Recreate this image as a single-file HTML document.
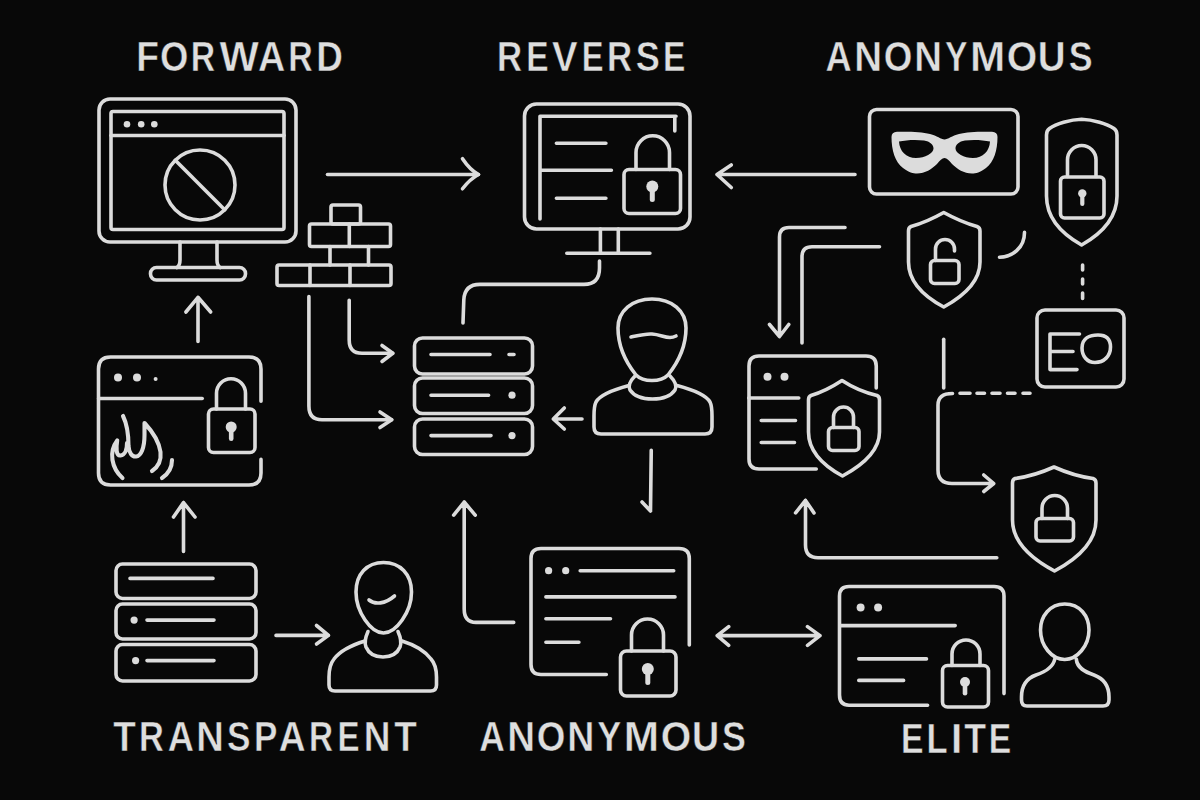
<!DOCTYPE html>
<html><head><meta charset="utf-8">
<style>
html,body{margin:0;padding:0;background:#080808;width:1200px;height:800px;overflow:hidden}
svg{display:block}
.s{fill:none;stroke:#dcdcdc;stroke-width:3.6;stroke-linecap:round;stroke-linejoin:round}
.f{fill:#dcdcdc;stroke:none}
.t{font-family:"Liberation Sans",sans-serif;font-weight:bold;font-size:42px;fill:#dedede;stroke:#080808;stroke-width:0.5}
</style></head>
<body>
<svg width="1200" height="800" viewBox="0 0 1200 800">
<rect width="1200" height="800" fill="#080808"/>
<!-- titles -->
<text class="t" transform="translate(136.20,71.45) scale(0.884,1)">F</text>
<text class="t" transform="translate(159.98,71.45) scale(0.868,1)">O</text>
<text class="t" transform="translate(190.72,71.45) scale(0.804,1)">R</text>
<text class="t" transform="translate(219.54,71.45) scale(0.992,1)">W</text>
<text class="t" transform="translate(257.94,71.45) scale(0.899,1)">A</text>
<text class="t" transform="translate(288.21,71.45) scale(0.808,1)">R</text>
<text class="t" transform="translate(316.31,71.45) scale(0.879,1)">D</text>
<text class="t" transform="translate(497.05,71.35) scale(0.829,1)">R</text>
<text class="t" transform="translate(526.29,71.35) scale(0.797,1)">E</text>
<text class="t" transform="translate(552.02,71.35) scale(0.913,1)">V</text>
<text class="t" transform="translate(581.79,71.35) scale(0.778,1)">E</text>
<text class="t" transform="translate(607.05,71.35) scale(0.829,1)">R</text>
<text class="t" transform="translate(635.84,71.35) scale(0.860,1)">S</text>
<text class="t" transform="translate(662.94,71.35) scale(0.797,1)">E</text>
<text class="t" transform="translate(825.58,71.25) scale(0.864,1)">A</text>
<text class="t" transform="translate(854.20,71.25) scale(0.917,1)">N</text>
<text class="t" transform="translate(883.87,71.25) scale(0.875,1)">O</text>
<text class="t" transform="translate(914.31,71.25) scale(0.915,1)">N</text>
<text class="t" transform="translate(944.90,71.25) scale(0.805,1)">Y</text>
<text class="t" transform="translate(970.05,71.25) scale(1.008,1)">M</text>
<text class="t" transform="translate(1006.87,71.25) scale(0.933,1)">O</text>
<text class="t" transform="translate(1037.67,71.25) scale(0.917,1)">U</text>
<text class="t" transform="translate(1068.65,71.25) scale(0.852,1)">S</text>
<text class="t" transform="translate(113.27,750.75) scale(0.879,1)">T</text>
<text class="t" transform="translate(139.08,750.75) scale(0.819,1)">R</text>
<text class="t" transform="translate(167.68,750.75) scale(0.864,1)">A</text>
<text class="t" transform="translate(196.33,750.75) scale(0.909,1)">N</text>
<text class="t" transform="translate(226.96,750.75) scale(0.840,1)">S</text>
<text class="t" transform="translate(254.03,750.75) scale(0.835,1)">P</text>
<text class="t" transform="translate(278.75,750.75) scale(0.885,1)">A</text>
<text class="t" transform="translate(309.05,750.75) scale(0.793,1)">R</text>
<text class="t" transform="translate(337.47,750.75) scale(0.787,1)">E</text>
<text class="t" transform="translate(363.71,750.75) scale(0.880,1)">N</text>
<text class="t" transform="translate(394.17,750.75) scale(0.879,1)">T</text>
<text class="t" transform="translate(479.15,750.75) scale(0.844,1)">A</text>
<text class="t" transform="translate(507.20,750.75) scale(0.917,1)">N</text>
<text class="t" transform="translate(536.87,750.75) scale(0.875,1)">O</text>
<text class="t" transform="translate(567.37,750.75) scale(0.893,1)">N</text>
<text class="t" transform="translate(597.26,750.75) scale(0.858,1)">Y</text>
<text class="t" transform="translate(623.84,750.75) scale(1.009,1)">M</text>
<text class="t" transform="translate(660.67,750.75) scale(0.933,1)">O</text>
<text class="t" transform="translate(692.12,750.75) scale(0.895,1)">U</text>
<text class="t" transform="translate(721.95,750.75) scale(0.852,1)">S</text>
<text class="t" transform="translate(901.02,753.05) scale(0.804,1)">E</text>
<text class="t" transform="translate(926.47,753.05) scale(0.823,1)">L</text>
<text class="t" transform="translate(950.97,753.05) scale(0.965,1)">I</text>
<text class="t" transform="translate(964.13,753.05) scale(0.849,1)">T</text>
<text class="t" transform="translate(988.83,753.05) scale(0.800,1)">E</text>
<!-- /titles -->

<g class="s">
<!-- Monitor 1 -->
<rect x="99" y="99" width="197" height="143" rx="11"/>
<rect x="111" y="111.5" width="173" height="118" rx="2"/>
<path d="M111,135.5 L284,135.5"/>
<circle cx="200" cy="185" r="35"/>
<path d="M175.3,160.3 L224.7,209.7"/>
<path d="M180,242 L180,260 Q180,265.5 177,267.5 M217,242 L217,260 Q217,265.5 220,267.5"/>
<rect x="150.5" y="267.5" width="95" height="12.5" rx="6"/>

<!-- brick wall -->
<rect x="331" y="205" width="29.5" height="19" rx="2"/>
<rect x="309.5" y="224" width="81" height="22.5" rx="2"/>
<path d="M349.3,224 L349.3,246.5 M330,246.5 L330,265 M368.5,246.5 L368.5,265"/>
<rect x="277" y="265" width="114" height="20.5" rx="2"/>
<path d="M310,265 L310,285.5 M350,265 L350,285.5"/>

<!-- arrow right top -->
<path d="M327.5,174.5 L478.5,174.5"/>
<path d="M462.5,158.75 Q470,170 478.5,174.5 Q470,179 462.5,188.75"/>

<!-- Monitor 2 -->
<rect x="524.5" y="104" width="165.5" height="125" rx="12"/>
<path d="M540,219 L540,116.3 L676,116.3 M674.8,117 L674.8,131"/>
<path d="M556.4,143.3 L605.9,143.3 M541,170.2 L611.4,170.2 M556.4,198.3 L605.9,198.3"/>
<rect x="624" y="169.5" width="56.5" height="44" rx="5"/>
<path d="M636,169.5 L636,152.5 A16.75,16.75 0 0 1 669.5,152.5 L669.5,169.5"/>
<path d="M600.4,229 L600.4,253.3 M618.3,229 L618.3,253.3 M566.8,253.3 L649.9,253.3"/>

<!-- line monitor2 -> server -->
<path d="M463,322.9 L463.8,300 Q464.5,284.4 480,284.4 L584,284.4 Q599.5,284.4 599.5,268 L599.5,261"/>

<!-- brick lines -->
<path d="M308.9,296.6 L308.9,406 Q308.9,419.8 322,419.8 L391.7,419.8"/>
<path d="M380,412 L391.7,419.8 L380,427.5"/>
<path d="M349.2,300.2 L349.2,340 Q349.2,353.3 362,353.3 L392.8,353.3"/>
<path d="M382,345.5 L392.8,353.3 L382,361.5"/>

<!-- server center -->
<rect x="414.5" y="338" width="118" height="36" rx="8"/>
<rect x="414.5" y="378" width="118" height="35.5" rx="8"/>
<rect x="414.5" y="419" width="118" height="35.5" rx="8"/>
<path d="M431,354.5 L490,354.5 M509,354.5 L514,354.5 M431,395.2 L488.6,395.2 M431,435.6 L491,435.6"/>

<!-- arrow person -> server -->
<path d="M553.3,419 L582,419 M564.3,408 L553.3,419 L564.3,429"/>

<!-- person center -->
<path d="M652,299 C672,299 686,311 686,328 C686,348 676,365 668,375 C664,379 658,380.5 652,380.5 C646,380.5 640,379 636,375 C628,365 618,348 618,328 C618,311 632,299 652,299 Z"/>
<path d="M631,337 C640,335 646,333.5 652,334 C660,334.5 664,337.5 670,337.5 C673,337.5 675,336.5 676,336"/>
<path d="M635,376 C630,381 628,386 630,390 C634,396 643,399 652.5,399 C662,399 671,396 675,390 C677,386 675,381 670,376"/>
<path d="M629,385.5 C612,390 600,395 596,402 C594,406 594,411 594,416 L594,427 Q594,434 601,434 L705,434 Q712,434 712,427 L712,416 C712,411 712,406 710,402 C706,395 694,390 677,385.5"/>
<path d="M651.25,450.3 L650.5,511 M642,502 L650.5,511"/>

<!-- arrow left from mask -->
<path d="M717,174.5 L855,174.5 M731.25,165 L717,174.5 L731.25,187.5"/>

<!-- mask box -->
<rect x="869.5" y="109.5" width="148.5" height="84.5" rx="7"/>

<!-- shield top right -->
<path d="M1081.6,119.2 C1070,119.5 1056,124 1049.5,128.5 Q1046.5,130.5 1046.5,135 L1046.5,196 C1046.5,218 1062,234 1081.6,245 C1101,234 1117,218 1117,196 L1117,135 Q1117,130.5 1114,128.5 C1107,124 1093,119.5 1081.6,119.2 Z"/>
<path d="M1067.5,176.5 L1067.5,159.75 A14.25,14.25 0 0 1 1096,159.75 L1096,176.5"/>
<rect x="1060.5" y="177" width="43.5" height="41" rx="4"/>

<!-- shield open lock -->
<path d="M943.75,212.5 Q927,222 911,226.5 Q908.5,227.5 908.5,231 L908.5,262 C908.5,282 925,297 943.75,307 C962,297 980,282 980,262 L980,231 Q980,227.5 977,226.5 Q961,222 943.75,212.5 Z"/>
<rect x="930.5" y="260.5" width="28.5" height="23" rx="4"/>
<path d="M935.5,260.5 L935.5,249 A9.5,9.5 0 0 1 954.5,249 L954.5,251"/>

<!-- L arrows -->
<path d="M845,227.5 L789,227.5 Q779.5,227.5 779.5,237 L779.5,336.5 M769.5,324.5 L779.5,336.5 L788.75,324.5"/>
<path d="M879.5,246.75 L812,246.75 Q802,246.75 802,256.75 L802,343"/>

<!-- arc -->
<path d="M999.5,257.3 C1012,257 1024.5,248 1024.5,232.4"/>

<!-- dotted vertical -->
<path d="M1082.6,265 L1082.6,270 M1082.6,279 L1082.6,284 M1082.6,293 L1082.6,298.5"/>

<!-- EO box -->
<rect x="1037" y="310" width="87" height="77" rx="8"/>
<path d="M1079.5,334 L1050,334 L1050,369.6 L1077,369.6 M1050,351.5 L1073,351.5"/>
<path d="M1082,348 C1082,338 1090,335 1098,335 C1107,335 1110.5,340 1110.5,347 C1110.5,356 1104,362.5 1095,362.5 C1087,362.5 1082,356 1082,348 Z"/>

<!-- vertical & dashed L -->
<path d="M943.7,339.2 L943.7,387.9"/>
<path d="M952.5,393.5 Q938,393.5 938,405 L938,470 Q938,483.5 952,483.5 L993.75,483.5 M983.75,475 L993.75,483.5 L983.75,491.5"/>
<path d="M960,393.3 L970,393.3 M977,393.3 L984.5,393.3 M992,393.3 L1000,393.3 M1007.5,393.3 L1015,393.3 M1023,393.3 L1030,393.3"/>

<!-- server+shield panel -->
<path d="M876.25,388 L876.25,366 Q876.25,356 866,356 L759,356 Q749,356 749,366 L749,459 Q749,469 759,469 L816.25,469"/>
<path d="M748.75,398 L798.75,398 M761.25,420.5 L795.5,420.5 M761.25,442.5 L794.5,442.5"/>
<path d="M842,380.5 Q826,391 811,395.5 Q808.5,396.5 808.5,400 L808.5,432 C808.5,452 824,466 842.5,476 C861,466 879.5,452 879.5,432 L879.5,400 Q879.5,396.5 877,395.5 Q858,391 842,380.5 Z"/>
<path d="M833.5,427.5 L833.5,417 A10,10 0 0 1 853.5,417 L853.5,427.5"/>
<rect x="828.5" y="427.5" width="30.5" height="23" rx="4"/>

<!-- arrow up L right -->
<path d="M996.8,557.7 L818,557.7 Q805.5,557.7 805.5,545 L805.5,500.4 M795.6,512.9 L805.5,500.4 L814,512.9"/>

<!-- shield BR -->
<path d="M1054,467 Q1034,476 1015,478.5 Q1012.5,479.5 1012.5,483 L1012.5,520 C1012.5,542 1032,559 1054.5,571 C1077,559 1096,542 1096,520 L1096,483 Q1096,479.5 1093,478.5 Q1074,476 1054,467 Z"/>
<path d="M1042,518.5 L1042,508.25 A12.75,12.75 0 0 1 1067.5,508.25 L1067.5,518.5"/>
<rect x="1036" y="518.5" width="37.5" height="22.5" rx="4"/>

<!-- browser with fire -->
<path d="M261,401.3 L261,369 Q261,357 249,357 L110.5,357 Q98.5,357 98.5,369 L98.5,473 Q98.5,485 110.5,485 L249,485 Q261,485 261,473 L261,459.4"/>
<path d="M98.7,398.5 L202.2,398.5"/>
<path d="M216.5,409 L216.5,393.25 A14.5,14.5 0 0 1 245.5,393.25 L245.5,409"/>
<rect x="208.5" y="409" width="46.5" height="43.5" rx="5"/>
<path style="stroke-width:4.1" d="M122.5,478 C111.5,468 108.5,452 117.2,440.5 C116,448 116,456 120.5,455.5 C125,455 127,449 127,443 M123,416 C127,424 128.5,436 128.5,446 C129,453 132,457 136,456.5 C141,456 144.5,448 144.5,435 L144.5,423 C151,430 159,441 160.5,452 C161.5,461 158,467 152,471 M172,460 C172,468 168,474 162,478"/>

<!-- arrows up left -->
<path d="M198,341.5 L198,297.3 M185.9,312 L198,297.3 L210.7,312"/>
<path d="M183.5,551.5 L183.5,502.6 M173.5,517 L183.5,502.6 L195,517"/>

<!-- server BL -->
<rect x="116" y="564" width="140" height="34.5" rx="6.5"/>
<rect x="116" y="604" width="140" height="35" rx="6.5"/>
<rect x="116" y="644.5" width="140" height="36.5" rx="6.5"/>
<path d="M130,578.4 L213,578.4 M147,620.1 L214,620.1 M147,660.6 L214,660.6"/>

<!-- arrow right BL -->
<path d="M276,635.4 L328.5,635.4 M316.5,625.5 L328.5,635.4 L316.5,644"/>

<!-- person BL -->
<path d="M383.5,562.5 C400,562.5 411.5,574 411.5,592 C411.5,612 396,633 383.5,633 C371,633 356,612 356,592 C356,574 367,562.5 383.5,562.5 Z"/>
<path d="M369,600 C375,605 385,604 394.5,596"/>
<path d="M368,631.5 C366,636 364,642 366,647 C369,654 376,657 383,657 C390,657 397,654 400,647 C402,642 400,636 398,631.5"/>
<path d="M365,641 C352,645 340,651 334,659 C330,664 329,670 329,677 L329,685 Q329,691 335,691 L430.5,691 Q436.5,691 436.5,685 L436.5,677 C436.5,670 435.5,664 431,659 C425,651 415,645 402,641"/>

<!-- arrow up L bottom center -->
<path d="M513.7,622.4 L476,622.4 Q464.2,622.4 464.2,609 L464.2,502 M453.7,515.2 L464.2,502 L475.2,515.2"/>

<!-- browser BC -->
<path d="M689.3,645 L689.3,558.5 Q689.3,548.5 679,548.5 L541,548.5 Q531,548.5 531,558.5 L531,664.5 Q531,674.5 541,674.5 L606.3,674.5"/>
<path d="M580.2,570.7 L673.7,570.7 M545.9,596.9 L675,596.9 M545.9,618.8 L610.5,618.8 M545.9,642.2 L578.9,642.2"/>
<path d="M631.5,651 L631.5,635 A16,16 0 0 1 663.5,635 L663.5,651"/>
<rect x="620.5" y="651" width="55.5" height="45" rx="6"/>

<!-- double arrow -->
<path d="M717.2,635.6 L820,635.6 M728.7,626.6 L717.2,635.6 L728.7,645.3 M807.5,626.6 L820,635.6 L807.5,645.3"/>

<!-- browser BR -->
<path d="M1004,693.6 L1004,596 Q1004,586.5 994,586.5 L849,586.5 Q839.5,586.5 839.5,596 L839.5,695 Q839.5,705.2 849,705.2 L927.6,705.2"/>
<path d="M839.8,625.6 L955.2,625.6 M858.8,658.9 L926.5,658.9 M858.8,680.4 L903.6,680.4"/>
<path d="M952,665.5 L952,654 A14,14 0 0 1 980,654 L980,665.5"/>
<rect x="942.5" y="665.5" width="46" height="41.5" rx="5"/>

<!-- person BR -->
<path d="M1064.7,604 C1080,604 1089,616 1089,630 C1089,646 1077,659.5 1064.7,659.5 C1052,659.5 1040.5,646 1040.5,630 C1040.5,616 1050,604 1064.7,604 Z"/>
<path d="M1054.8,659 C1053,668 1045,672 1036,675 C1025,679 1021.5,688 1021.5,697 L1021.5,700 Q1021.5,706 1027,706 L1103,706 Q1109,706 1109,700 L1109,697 C1109,688 1105,679 1094,675 C1085,672 1077,668 1076.3,659"/>
</g>

<!-- filled items -->
<g class="f">
<circle cx="127" cy="124.3" r="3.3"/><circle cx="141.2" cy="124.3" r="3.3"/><circle cx="154.3" cy="124.3" r="3.3"/>
<circle cx="652.3" cy="186.5" r="6"/><rect x="649.8" y="186.5" width="5" height="15.5" rx="2.5"/>
<circle cx="512" cy="395.2" r="3.6"/><circle cx="512" cy="435.6" r="3.6"/>
<circle cx="1082.3" cy="193.4" r="4.2"/><rect x="1080.2" y="193" width="4.2" height="13" rx="2.1"/>
<circle cx="767.5" cy="376.75" r="4"/><circle cx="784.5" cy="376.75" r="4"/>
<circle cx="118" cy="377.5" r="4"/><circle cx="137" cy="377.5" r="4"/><circle cx="155.6" cy="378.9" r="2"/>
<circle cx="231.2" cy="427" r="5.5"/><rect x="228.9" y="427" width="4.6" height="14" rx="2.3"/>
<circle cx="134.1" cy="620.1" r="3.6"/><circle cx="135.6" cy="660.6" r="3.6"/>
<circle cx="548.6" cy="570.7" r="3.6"/><circle cx="565.7" cy="570.7" r="3.6"/>
<circle cx="647.8" cy="669" r="6"/><rect x="645.3" y="669" width="5" height="16" rx="2.5"/>
<circle cx="860.6" cy="607.6" r="4"/><circle cx="878.1" cy="607.6" r="4"/>
<circle cx="965" cy="682" r="5"/><rect x="962.7" y="682" width="4.6" height="13.5" rx="2.3"/>
<!-- mask -->
<path fill-rule="evenodd" d="M891.5,137 Q891.5,132 897,131.8 C910,131.5 922,132 930,134 C937,135.5 941,139.5 944.5,139.5 C948,139.5 952,135.5 959,134 C967,132 979,131.5 992,131.8 Q997.5,132 997.5,137 C997.5,150 994,162 986,168 C980,172.5 976,173.5 972,173.5 C964,173.5 957,169 952,164 C949,160.5 947,158 944.5,158 C942,158 940,160.5 937,164 C932,169 925,173.5 917,173.5 C913,173.5 909,172.5 903,168 C895,162 891.5,150 891.5,137 Z M899,141.5 C906,140 916,139.5 924,140.5 C930,141.5 933.5,144.5 933.5,148.5 C933.5,153 925,158 916,158 C906,158 899.5,151 899,141.5 Z M990,141.5 C983,140 973,139.5 965,140.5 C959,141.5 955.5,144.5 955.5,148.5 C955.5,153 964,158 973,158 C983,158 989.5,151 990,141.5 Z"/>
</g>
</svg>
</body></html>
